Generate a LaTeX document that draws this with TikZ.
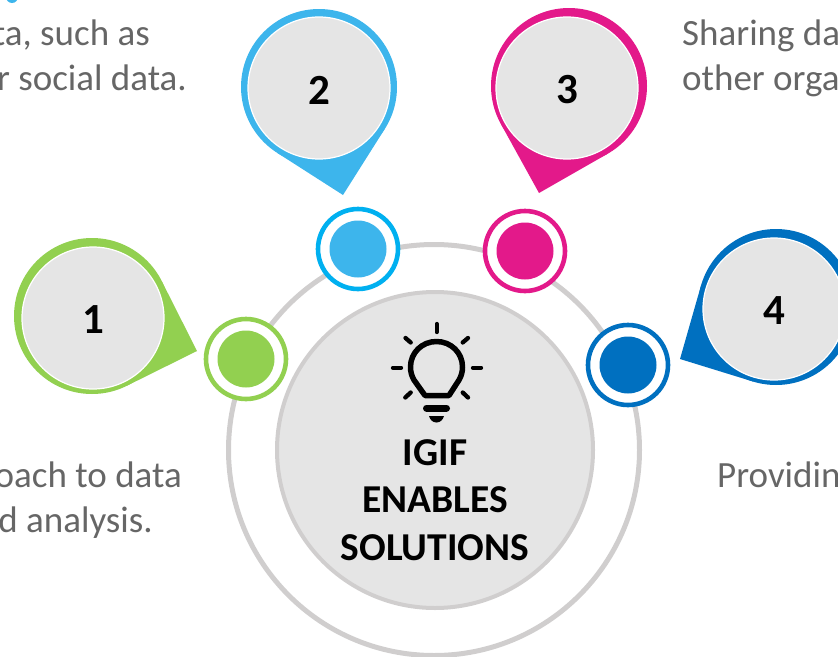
\documentclass[tikz,border=0pt]{standalone}
\usepackage{fontspec}
\usetikzlibrary{calc}
\setmainfont{Carlito}
\definecolor{gBlue}{HTML}{3DB5EC}
\definecolor{gCyan}{HTML}{00B0F0}
\definecolor{gPink}{HTML}{E3198A}
\definecolor{gGreen}{HTML}{92D050}
\definecolor{gDark}{HTML}{0070C0}
\definecolor{gFace}{HTML}{E5E5E5}
\definecolor{gRing}{HTML}{D0CECE}
\definecolor{gText}{HTML}{666666}
\newcommand{\pinnum}[1]{\raisebox{-2pt}[\height][\depth]{#1}}
\tikzset{
 x=1pt,y=-1pt,
 body/.style={font=\fontsize{37pt}{40pt}\selectfont,text=gText,inner sep=0pt},
 num/.style={font=\fontsize{43pt}{44pt}\selectfont\bfseries,text=black,circle,fill=gFace,draw=white,line width=1.2pt,minimum size=142pt,inner sep=0pt},
 ray/.style={line width=4.3pt,line cap=round,black},
 dot/.style={circle,minimum size=57pt,inner sep=0pt},
 halo/.style={circle,fill=white,minimum size=80pt,inner sep=0pt,line width=4.6pt},
 pinbase/.style={circle,minimum size=156pt,inner sep=0pt,outer sep=0pt},
}
\begin{document}
\begin{tikzpicture}
\useasboundingbox (0,0) rectangle (838,656);
\clip (0,0) rectangle (838,656);
% cyan sliver at the top edge
\fill[gBlue] (12,-3) circle (6);
% rings
\node[circle,draw=gRing,line width=5pt,minimum size=411pt,inner sep=0pt] (outer) at (434,450) {};
\node[circle,draw=gRing,fill=gFace,line width=4pt,minimum size=316pt,inner sep=0pt] (inner) at (435,450) {};
% small dots
\node[halo,draw=gGreen] (h1) at (246,359) {};
\node[dot,fill=gGreen] (d1) at (246,359) {};
\node[halo,draw=gCyan] (h2) at (358,249) {};
\node[dot,fill=gBlue] (d2) at (358,249) {};
\node[halo,draw=gPink] (h3) at (525,251) {};
\node[dot,fill=gPink] (d3) at (525,251) {};
\node[halo,draw=gDark] (h4) at (628,365) {};
\node[dot,fill=gDark] (d4) at (628,365) {};
% pins
\node[pinbase,fill=gGreen] (o1) at (92,316) {};
\coordinate (k1) at (197,351);
\fill[gGreen] (tangent cs:node=o1,point={(k1)},solution=1) -- (k1) -- (tangent cs:node=o1,point={(k1)},solution=2) -- (o1.center) -- cycle;
\node[num] (p1) at (93,318) {\pinnum{1}};
\node[pinbase,fill=gBlue] (o2) at (319,87) {};
\coordinate (k2) at (343,195);
\fill[gBlue] (tangent cs:node=o2,point={(k2)},solution=1) -- (k2) -- (tangent cs:node=o2,point={(k2)},solution=2) -- (o2.center) -- cycle;
\node[num] (p2) at (319,88) {\pinnum{2}};
\node[pinbase,fill=gPink] (o3) at (569,86) {};
\coordinate (k3) at (539,193);
\fill[gPink] (tangent cs:node=o3,point={(k3)},solution=1) -- (k3) -- (tangent cs:node=o3,point={(k3)},solution=2) -- (o3.center) -- cycle;
\node[num] (p3) at (567,88) {\pinnum{3}};
\node[pinbase,fill=gDark] (o4) at (776,307) {};
\coordinate (k4) at (680,359);
\fill[gDark] (tangent cs:node=o4,point={(k4)},solution=1) -- (k4) -- (tangent cs:node=o4,point={(k4)},solution=2) -- (o4.center) -- cycle;
\node[num] (p4) at (774,309) {\pinnum{4}};
% bulb
\draw[line width=5.500pt,line join=round,black] (425,395.500) -- (414,380) .. controls (411.700,376) and (410.500,372) .. (410.500,367) .. controls (410.500,352.600) and (422.100,341.500) .. (436.500,341.500) .. controls (450.900,341.500) and (462.500,352.600) .. (462.500,367) .. controls (462.500,372) and (461.300,376) .. (459,380) -- (449,395.500) -- cycle;
\draw[ray] (436.700,324) -- (436.700,332);
\draw[ray] (405.500,338) -- (410.700,342.500);
\draw[ray] (468,338) -- (462.700,342.500);
\draw[ray] (393,367.700) -- (401,367.700);
\draw[ray] (473,367.700) -- (481,367.700);
\draw[ray] (405.300,397.500) -- (410.700,392.500);
\draw[ray] (468,397.500) -- (462.700,392.500);
\draw[line width=7pt,line cap=round,black] (426.500,408) -- (446.500,408);
\fill[black] (429,416) -- (444,416) .. controls (443,420) and (440,422.500) .. (436.500,422.500) .. controls (433,422.500) and (430,420) .. (429,416) -- cycle;
% centre title
\node[font=\fontsize{39.500pt}{47.500pt}\selectfont\bfseries,text=black,align=center,inner sep=0pt] (title) at (435,500) {IGIF\\ENABLES\\SOLUTIONS};
% side texts
\node[body,anchor=base east] (t1) at (150,45) {ta, such as};
\node[body,anchor=base east] (t2) at (187,90) {r social data.};
\node[body,anchor=base west] (t3) at (682,45) {Sharing da};
\node[body,anchor=base west] (t4) at (682,90) {other orga};
\node[body,anchor=base east] (t5) at (182,487) {oach to data};
\node[body,anchor=base east] (t6) at (153,532) {d analysis.};
\node[body,anchor=base west] (t7) at (717,487) {Providin};
\end{tikzpicture}
\end{document}
